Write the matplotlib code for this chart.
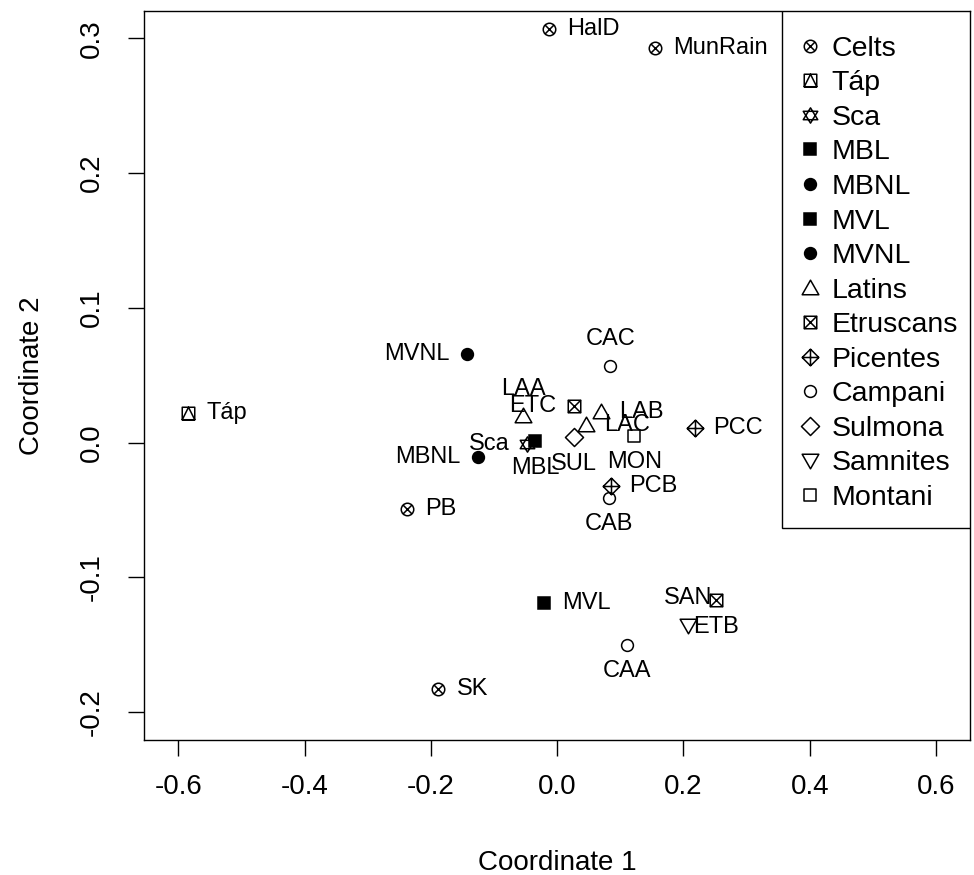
import matplotlib
matplotlib.use("Agg")
import matplotlib.pyplot as plt
from matplotlib.path import Path
from matplotlib.lines import Line2D
from matplotlib.patches import Rectangle
import numpy as np

plt.rcParams['font.family'] = ['Liberation Sans', 'DejaVu Sans']

# groups in legend order
groups = ['Celts', 'Táp', 'Sca', 'MBL', 'MBNL', 'MVL', 'MVNL', 'Latins',
          'Etruscans', 'Picentes', 'Campani', 'Sulmona', 'Samnites', 'Montani']

# samples (MDS coordinates)
site_labels = ['HalD', 'MunRain', 'PB', 'SK', 'Táp', 'Sca', 'MBL', 'MBNL',
               'MVL', 'MVNL', 'LAA', 'LAB', 'LAC', 'ETC', 'ETB', 'PCC', 'PCB',
               'CAC', 'CAB', 'CAA', 'SUL', 'SAN', 'MON']
site_group = ['Celts', 'Celts', 'Celts', 'Celts', 'Táp', 'Sca', 'MBL', 'MBNL',
              'MVL', 'MVNL', 'Latins', 'Latins', 'Latins', 'Etruscans',
              'Etruscans', 'Picentes', 'Picentes', 'Campani', 'Campani',
              'Campani', 'Sulmona', 'Samnites', 'Montani']
coord1 = [-0.013, 0.155, -0.237, -0.188, -0.584, -0.047, -0.035, -0.125,
          -0.021, -0.142, -0.054, 0.070, 0.046, 0.027, 0.252, 0.218, 0.085,
          0.084, 0.082, 0.111, 0.027, 0.207, 0.122]
coord2 = [0.307, 0.293, -0.049, -0.183, 0.022, -0.001, 0.001, -0.011,
          -0.119, 0.066, 0.020, 0.023, 0.013, 0.027, -0.117, 0.011, -0.032,
          0.057, -0.041, -0.150, 0.004, -0.135, 0.005]

# label side, like R's text(pos=): 1 below, 2 left, 3 above, 4 right
label_pos = [4, 4, 4, 4, 4, 2, 1, 2, 4, 2, 3, 4, 4, 2, 1, 4, 4, 3, 1, 1, 1, 3, 1]


def compound(*parts):
    return Path.make_compound_path(*parts)


def seg(points):
    verts, codes = [], []
    for a, b in points:
        verts += [a, b]
        codes += [Path.MOVETO, Path.LINETO]
    return Path(verts, codes)


def poly(pts):
    return Path(list(pts) + [pts[0]],
                [Path.MOVETO] + [Path.LINETO] * (len(pts) - 1) + [Path.CLOSEPOLY])


# R-like pch symbols
sq = poly([(-1, -1), (1, -1), (1, 1), (-1, 1)])
diamond = poly([(0, 1), (1, 0), (0, -1), (-1, 0)])
tri_up = poly([(0, 1), (-1, -0.75), (1, -0.75)])
tri_dn = poly([(0, -1), (-1, 0.75), (1, 0.75)])
a = 0.72
pch13 = compound(Path.unit_circle(), seg([((-a, -a), (a, a)), ((-a, a), (a, -a))]))
pch14 = compound(sq, poly([(-1, -1), (0, 1), (1, -1)]))
pch11 = compound(poly([(0, 1), (-0.95, -0.55), (0.95, -0.55)]),
                 poly([(0, -1), (-0.95, 0.55), (0.95, 0.55)]))
pch7 = compound(sq, seg([((-1, -1), (1, 1)), ((-1, 1), (1, -1))]))
pch9 = compound(diamond, seg([((-1, 0), (1, 0)), ((0, -1), (0, 1))]))

# marker, size (pt), filled
styles = {
    'Celts': (pch13, 9, False),
    'Táp': (pch14, 9, False),
    'Sca': (pch11, 11, False),
    'MBL': ('s', 8.5, True),
    'MBNL': ('o', 8.5, True),
    'MVL': ('s', 8.5, True),
    'MVNL': ('o', 8.5, True),
    'Latins': (tri_up, 12, False),
    'Etruscans': (pch7, 9, False),
    'Picentes': (pch9, 12, False),
    'Campani': ('o', 8.5, False),
    'Sulmona': (diamond, 13, False),
    'Samnites': (tri_dn, 12, False),
    'Montani': (sq, 9, False),
}

fig = plt.figure(figsize=(9.74, 8.75), dpi=100)
ax = fig.add_axes([0.148, 0.154, 0.848, 0.833])

for g in groups:
    mk, ms, filled = styles[g]
    xs = [x for x, gg in zip(coord1, site_group) if gg == g]
    ys = [y for y, gg in zip(coord2, site_group) if gg == g]
    ax.plot(xs, ys, linestyle='none', marker=mk, markersize=ms,
            markerfacecolor='black' if filled else 'none',
            markeredgecolor='black', markeredgewidth=1.1)

offsets = {1: (0, -19, 'center', 'center'), 2: (-13, 0, 'right', 'center'),
           3: (0, 19, 'center', 'center'), 4: (13, 0, 'left', 'center')}
for lab, x, y, p in zip(site_labels, coord1, coord2, label_pos):
    dx, dy, ha, va = offsets[p]
    ax.annotate(lab, (x, y), xytext=(dx, dy), textcoords='offset points',
                ha=ha, va=va, fontsize=17, color='black')

ax.set_xlim(-0.654, 0.654)
ax.set_ylim(-0.2208, 0.320)
ax.set_xticks(np.arange(-0.6, 0.61, 0.2))
ax.set_yticks(np.arange(-0.2, 0.31, 0.1))
ax.set_xticklabels(['-0.6', '-0.4', '-0.2', '0.0', '0.2', '0.4', '0.6'])
ax.set_yticklabels(['-0.2', '-0.1', '0.0', '0.1', '0.2', '0.3'],
                   rotation=90, va='center')
ax.tick_params(direction='out', length=11.5, width=1.0,
               labelsize=20, color='black')
ax.tick_params(axis='x', pad=13)
ax.tick_params(axis='y', pad=17)
for s in ax.spines.values():
    s.set_linewidth(1.0)
    s.set_color('black')
ax.set_xlabel('Coordinate 1', fontsize=20, labelpad=36)
ax.set_ylabel('Coordinate 2', fontsize=20, labelpad=24)

# legend box (drawn like R's legend frame)
ax.add_patch(Rectangle((0.772, 0.291), 0.228, 0.709, transform=ax.transAxes,
                       facecolor='white', edgecolor='black', linewidth=1.0,
                       zorder=4))
handles = []
for g in groups:
    mk, ms, filled = styles[g]
    handles.append(Line2D([], [], linestyle='none', marker=mk, markersize=ms,
                          markerfacecolor='black' if filled else 'none',
                          markeredgecolor='black', markeredgewidth=1.1))
leg = ax.legend(handles, groups, loc='upper left', bbox_to_anchor=(0.772, 0.986),
                borderaxespad=0, fontsize=20.5, frameon=False,
                labelspacing=0.30, handlelength=0.96, handletextpad=0.29,
                borderpad=0.5)
leg.set_zorder(5)

fig.savefig('out.png', dpi=100)
